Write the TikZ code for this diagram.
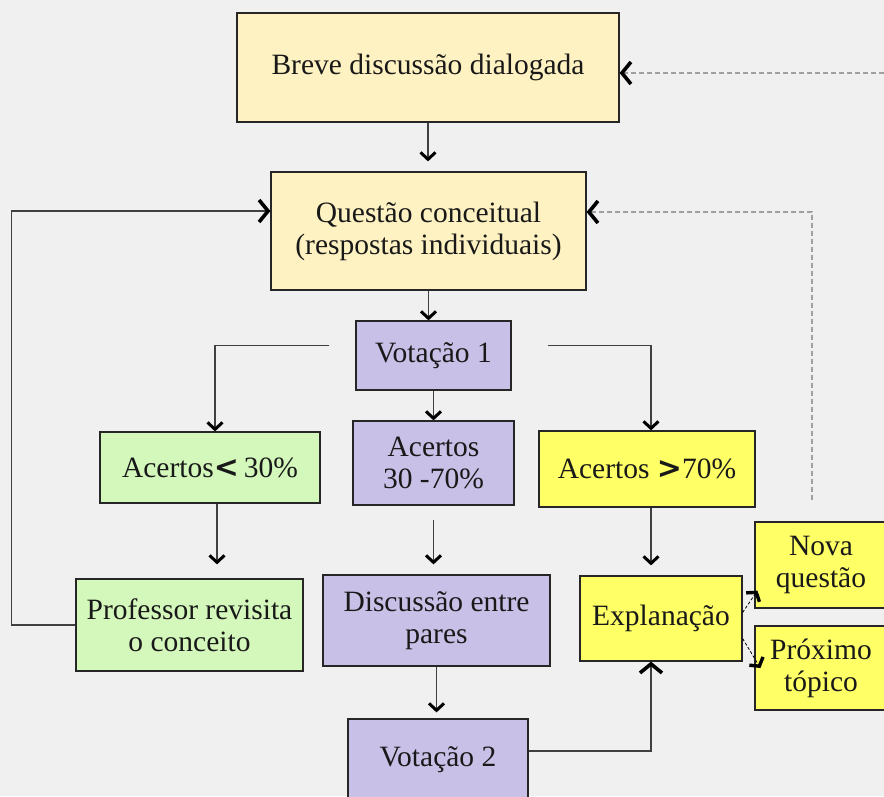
\documentclass[tikz,border=0pt]{standalone}
\usepackage{fontspec}
\setmainfont{Liberation Serif}
\newfontfamily\chevfont{DejaVu Sans}
\usetikzlibrary{arrows.meta}
\definecolor{bg}{HTML}{F0F0F0}
\definecolor{cream}{HTML}{FFF2C2}
\definecolor{lilac}{HTML}{C8C0E6}
\definecolor{mint}{HTML}{D4F8BC}
\definecolor{lemon}{HTML}{FFFF66}
\definecolor{dgray}{HTML}{A0A0A0}
\begin{document}
\begin{tikzpicture}[x=1pt,y=-1pt,
  box/.style={draw=black!85,line width=1.2pt,inner sep=0pt,align=center,
    font=\fontsize{29.5}{32}\selectfont,text=black!90},
  conn/.style={draw=black!75,line width=1.3pt,
    -{Straight Barb[length=7pt,width=15pt,line width=3pt,color=black]}},
  bigconn/.style={draw=black!75,line width=1.3pt,
    -{Straight Barb[length=9pt,width=22pt,line width=3.6pt,color=black]}},
  dconn/.style={draw=dgray,line width=1.3pt,dash pattern=on 5pt off 3pt,
    -{Straight Barb[length=9pt,width=22pt,line width=3.6pt,color=black]}},
  sconn/.style={draw=black,line width=0.8pt,dash pattern=on 3pt off 2pt,
    -{Straight Barb[length=6pt,width=16pt,line width=3.4pt,color=black]}}]
\useasboundingbox (0,0) rectangle (884,796);
\fill[bg] (0,0) rectangle (884,796);
\clip (0,0) rectangle (884,796);

\node[box,fill=cream,minimum width=382pt,minimum height=109pt] (breve) at (428,67.5) {\raisebox{-4pt}{Breve discussão dialogada}};
\node[box,fill=cream,minimum width=315pt,minimum height=118pt] (questao) at (428.5,231) {Questão conceitual\\(respostas individuais)};
\node[box,fill=lilac,minimum width=155pt,minimum height=69pt] (vot1) at (433.5,355.5) {Votação 1};
\node[box,fill=mint,minimum width=220pt,minimum height=71pt] (ac30) at (210,467.5) {Acertos{\chevfont\bfseries\fontsize{30}{32}\selectfont<}\,30\%};
\node[box,fill=lilac,minimum width=161pt,minimum height=84pt] (ac3070) at (433.5,463) {Acertos\\30 -70\%};
\node[box,fill=lemon,minimum width=216pt,minimum height=76pt] (ac70) at (647,469) {Acertos {\chevfont\bfseries\fontsize{30}{32}\selectfont>}70\%};
\node[box,fill=mint,minimum width=227pt,minimum height=92pt] (prof) at (189.5,625) {Professor revisita\\o conceito};
\node[box,fill=lilac,minimum width=227pt,minimum height=91pt] (disc) at (436.5,620.5) {Discussão entre\\pares};
\node[box,fill=lemon,minimum width=162pt,minimum height=85pt] (expl) at (661,618.5) {Explanação};
\node[box,fill=lemon,minimum width=132pt,minimum height=86pt] (nova) at (821,565) {Nova\\questão};
\node[box,fill=lemon,minimum width=132pt,minimum height=84pt] (prox) at (821,668) {Próximo\\tópico};
\node[box,fill=lilac,minimum width=180pt,minimum height=82pt] (vot2) at (438,760) {Votação 2};

\coordinate (r1) at (884,73);
\coordinate (r2) at (812,500);

\draw[conn,shorten >=10pt] (breve.south) -- (breve.south |- questao.north);
\draw[conn] (questao.south) -- (questao.south |- vot1.north);
\draw[conn] (vot1.south) -- (vot1.south |- ac3070.north);
\draw[conn,shorten <=26pt] ([yshift=10pt]vot1.west) -| ([xshift=5pt]ac30.north);
\draw[conn,shorten <=36pt] ([yshift=10pt]vot1.east) -| ([xshift=4pt]ac70.north);
\draw[conn,shorten >=14pt] ([xshift=7pt]ac30.south) -- ([xshift=7pt]ac30.south |- prof.north);
\draw[conn,shorten <=14pt,shorten >=10pt] (ac3070.south) -- (ac3070.south |- disc.north);
\draw[conn,shorten >=10pt] ([xshift=4pt]ac70.south) -- ([xshift=4pt]ac70.south |- expl.north);
\draw[conn,shorten >=6pt] (disc.south) -- (disc.south |- vot2.north);
\draw[bigconn] ([yshift=9pt]vot2.east) -| ([xshift=-10pt]expl.south);
\draw[bigconn] (prof.west) -- ++(-64,0) |- ([yshift=20pt]questao.west);
\draw[dconn] (r1) -- (breve.east |- r1);
\draw[dconn] (r2) |- ([yshift=19pt]questao.east);
\draw[sconn] ([yshift=6pt]expl.east) -- ([xshift=3pt,yshift=18pt]nova.south west);
\draw[sconn] ([yshift=-20pt]expl.east) -- ([xshift=6pt]prox.west);
\end{tikzpicture}
\end{document}
